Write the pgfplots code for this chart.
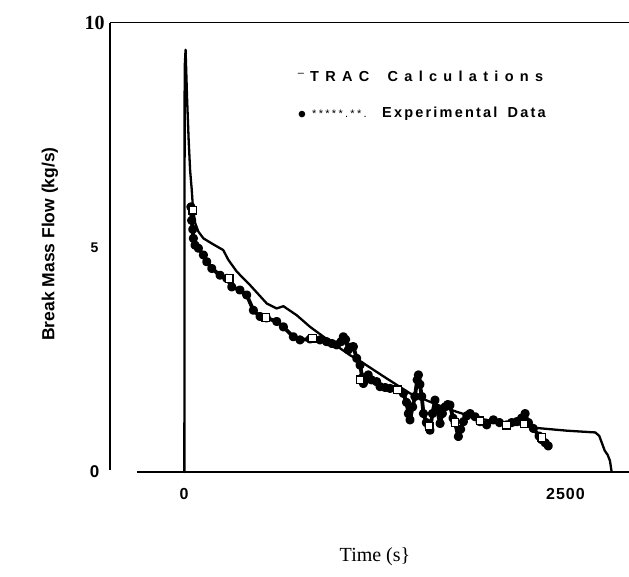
\documentclass[border=0pt]{standalone}
\usepackage{fontspec}
\usepackage{pgfplots}
\pgfplotsset{compat=1.18}
\setmainfont{Liberation Sans}
\newfontfamily\serifb{Liberation Serif}
\makeatletter
\newcommand\spaced[2]{\def\sp@k{#1}\sp@loop#2\relax}
\def\sp@loop#1{\ifx#1\relax\else #1\kern\sp@k\expandafter\sp@loop\fi}
\makeatother
\begin{document}
\begin{tikzpicture}
\useasboundingbox (0,0) rectangle (629pt,-577pt);
\begin{axis}[
  at={(110pt,-472pt)}, anchor=south west,
  scale only axis, width=519pt, height=449.3pt,
  xmin=-486, xmax=2920, ymin=0, ymax=10,
  clip=false,
  axis line style={draw=none},
  major tick length=0pt,
  xtick={0,2500}, xticklabels={0,\kern1pt 2\kern1pt 5\kern1pt 0\kern1pt 0},
  xticklabel style={anchor=center, yshift=-22pt, font=\bfseries\fontsize{16}{16}\selectfont},
  ytick={0,5,10},
  yticklabels={{\fontsize{17}{17}\selectfont\bfseries 0},{\fontsize{14}{14}\selectfont\bfseries 5},{\serifb\fontsize{20}{20}\selectfont\bfseries 10}},
  yticklabel style={anchor=center, xshift=-15.5pt},
]
\draw[line width=1.4pt] (axis cs:-486,10) -- (axis cs:2920,10);
\draw[line width=1.4pt] (axis cs:-486,10) -- (axis cs:-486,0.05);
\draw[line width=1.4pt] (axis cs:-309,0) -- (axis cs:2920,0);
% TRAC calculations
\addplot[black, line width=2.3pt, line join=round] coordinates {
(0,0) (2,0) (4,9.0) (10,9.4) (20,8.3) (30,7.4) (40,6.7) (50,6.3) (58,5.9)
(72,5.55) (94,5.35) (127,5.2) (190,5.07) (257,4.94) (291,4.72) (346,4.46)
(433,4.16) (543,3.75) (608,3.64) (652,3.69) (739,3.49) (827,3.23) (936,2.96)
(1089,2.6) (1155,2.47) (1308,2.13) (1483,1.75) (1658,1.5) (1789,1.34)
(1920,1.2) (2051,1.12) (2226,1.05) (2313,0.98) (2511,0.92) (2700,0.88)
(2725,0.8) (2745,0.62) (2760,0.48) (2780,0.38) (2795,0.25) (2806,0)
};
% Experimental data
\addplot[black, line width=3.8pt, line join=round, line cap=round, mark=*, mark size=2.7pt] coordinates {
(45,5.9) (50,5.6) (57,5.4) (61,5.2) (72,5.05) (94,4.98) (127,4.83) (149,4.68)
(182,4.53) (236,4.38) (280,4.31) (313,4.12) (367,4.05) (411,3.94) (455,3.6)
(499,3.46) (540,3.43) (608,3.35) (652,3.23) (717,3.01) (761,2.94) (827,2.96)
(892,2.94) (936,2.9) (970,2.86) (1001,2.83) (1030,2.9) (1045,3.01) (1060,2.95)
(1078,2.72) (1095,2.78) (1111,2.79) (1133,2.53) (1155,2.38) (1170,2.1)
(1177,1.97) (1190,2.05) (1209,2.16) (1230,2.05) (1264,2.01) (1286,1.9)
(1320,1.88) (1352,1.86) (1400,1.83) (1439,1.75) (1460,1.55) (1472,1.3)
(1483,1.16) (1500,1.45) (1515,1.68) (1530,2.05) (1538,2.16) (1548,1.95)
(1560,1.68) (1571,1.3) (1590,1.1) (1608,1.0) (1614,0.93) (1630,1.3)
(1647,1.6) (1660,1.4) (1680,1.08) (1695,1.3) (1713,1.45) (1730,1.5)
(1745,1.49) (1765,1.2) (1778,1.1) (1800,0.79) (1815,0.95) (1833,1.12)
(1855,1.25) (1877,1.3) (1910,1.23) (1942,1.12) (1986,1.05) (2030,1.16)
(2070,1.1) (2117,1.05) (2150,1.1) (2183,1.12) (2215,1.2) (2238,1.3)
(2260,1.1) (2292,0.97) (2330,0.8) (2347,0.72) (2370,0.65) (2390,0.58)
};
% square markers
\addplot[only marks, mark=square*, mark size=3.8pt, mark options={fill=white, draw=black, line width=1.3pt}] coordinates {
(57,5.83) (297,4.31) (536,3.44) (842,2.98) (1155,2.05) (1400,1.83)
(1608,1.02) (1778,1.1) (1942,1.14) (2117,1.04) (2233,1.07) (2347,0.77)
};
\end{axis}
% legend
\node[anchor=base, inner sep=0pt, font=\fontsize{11}{11}\selectfont] at (301pt,-77pt) {\char"2013};
\node[anchor=base west, inner sep=0pt, font=\bfseries\fontsize{14.5}{14.5}\selectfont] at (310pt,-82pt)
  {\spaced{6.3pt}{TRAC}\hspace{12pt}\spaced{6.3pt}{Calculations}};
\node[anchor=base, inner sep=0pt, font=\fontsize{24}{24}\selectfont] at (302pt,-123pt) {\char"2022};
\node[anchor=base west, inner sep=0pt, font=\fontsize{11}{11}\selectfont] at (312pt,-118pt)
  {\spaced{2.3pt}{*****.**.}};
\node[anchor=base west, inner sep=0pt, font=\bfseries\fontsize{14.5}{14.5}\selectfont] at (382pt,-118pt)
  {\spaced{2.2pt}{Experimental}\hspace{8pt}\spaced{2.2pt}{Data}};
% axis titles
\node[rotate=90, inner sep=0pt, font=\bfseries\fontsize{17.5}{17.5}\selectfont] at (50pt,-244pt) {Break Mass Flow (kg/s)};
\node[inner sep=0pt, font=\serifb\fontsize{20}{20}\selectfont] at (375pt,-557pt) {Time (s\}};
\end{tikzpicture}
\end{document}
